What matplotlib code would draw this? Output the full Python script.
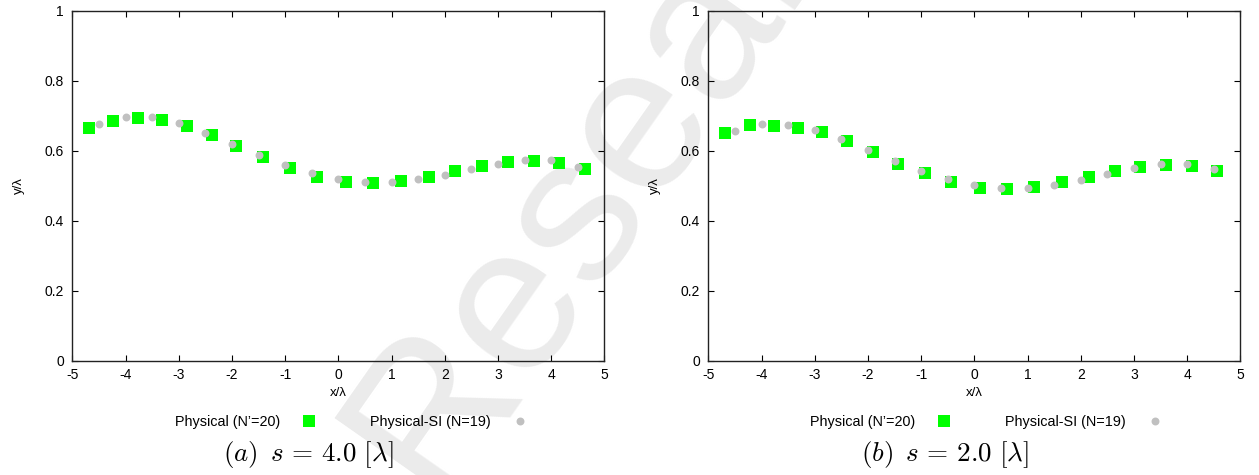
import numpy as np
import matplotlib
matplotlib.use('Agg')
import matplotlib.pyplot as plt

# Data
# (a) s = 4.0
xa_phys = [-4.68, -4.24, -3.77, -3.31, -2.85, -2.38, -1.92, -1.41, -0.90, -0.40,
           0.14, 0.66, 1.18, 1.70, 2.19, 2.70, 3.19, 3.67, 4.15, 4.64]
ya_phys = [0.667, 0.687, 0.695, 0.689, 0.672, 0.646, 0.615, 0.584, 0.552, 0.527,
           0.511, 0.509, 0.514, 0.527, 0.544, 0.557, 0.569, 0.571, 0.566, 0.549]
xa_si = [-4.5, -4.0, -3.5, -3.0, -2.5, -2.0, -1.5, -1.0, -0.5, 0.0,
         0.5, 1.0, 1.5, 2.0, 2.5, 3.0, 3.5, 4.0, 4.5]
ya_si = [0.676, 0.697, 0.696, 0.679, 0.652, 0.621, 0.589, 0.560, 0.536, 0.520,
         0.511, 0.511, 0.519, 0.531, 0.549, 0.563, 0.573, 0.573, 0.555]

# (b) s = 2.0
xb_phys = [-4.69, -4.22, -3.77, -3.32, -2.87, -2.40, -1.91, -1.43, -0.93, -0.43,
           0.10, 0.61, 1.13, 1.64, 2.15, 2.64, 3.12, 3.61, 4.10, 4.57]
yb_phys = [0.652, 0.675, 0.672, 0.667, 0.655, 0.629, 0.597, 0.563, 0.537, 0.511,
           0.495, 0.491, 0.498, 0.512, 0.527, 0.544, 0.555, 0.561, 0.558, 0.544]
xb_si = [-4.5, -4.0, -3.5, -3.0, -2.5, -2.0, -1.5, -1.0, -0.5, 0.0,
         0.5, 1.0, 1.5, 2.0, 2.5, 3.0, 3.5, 4.0, 4.5]
yb_si = [0.658, 0.677, 0.675, 0.659, 0.633, 0.603, 0.571, 0.544, 0.520, 0.504,
         0.495, 0.495, 0.503, 0.517, 0.534, 0.551, 0.563, 0.564, 0.548]

captions = [r'$(a)\ \,s\,=\,4.0\ [\lambda]$', r'$(b)\ \,s\,=\,2.0\ [\lambda]$']
xticks = [-5, -4, -3, -2, -1, 0, 1, 2, 3, 4, 5]
yticks = [0, 0.2, 0.4, 0.6, 0.8, 1]
ytick_labels = ['0', '0.2', '0.4', '0.6', '0.8', '1']

plt.rcParams['font.family'] = ['Liberation Sans', 'DejaVu Sans']
plt.rcParams['mathtext.fontset'] = 'cm'
plt.rcParams['axes.unicode_minus'] = False

W, H = 1259, 475
fig = plt.figure(figsize=(W / 100, H / 100), dpi=100)

# Watermark behind everything
fig.text(435 / W, 1 - 500 / H, 'Research', fontsize=150, color='#ebebeb',
         rotation=55, rotation_mode='anchor', ha='left', va='baseline', zorder=-5)

panels = [
    (72.3, xa_phys, ya_phys, xa_si, ya_si, 351, 308),
    (708.3, xb_phys, yb_phys, xb_si, yb_si, 986, 945),
]

for i, (left, xp, yp, xs, ys, leg_cx, cap_cx) in enumerate(panels):
    ax = fig.add_axes([left / W, 1 - 361 / H, 532 / W, 350 / H])
    ax.set_facecolor('none')
    ax.plot(xp, yp, 's', color='#00ff00', markersize=8.6, markeredgewidth=0,
            label="Physical (N\u2019=20)", zorder=3)
    ax.plot(xs, ys, 'o', color='#c0c0c0', markersize=5.7, markeredgewidth=0,
            label='Physical-SI (N=19)', zorder=3)
    ax.set_xlim(-5, 5)
    ax.set_ylim(0, 1)
    ax.set_xticks(xticks)
    ax.set_yticks(yticks)
    ax.set_yticklabels(ytick_labels)
    ax.tick_params(direction='in', length=4, width=0.8, top=True, right=True,
                   labelsize=10, pad=5)
    ax.tick_params(axis='y', pad=6)
    for sp in ax.spines.values():
        sp.set_linewidth(1.0)
        sp.set_color('#222222')
    ax.set_xlabel('x/λ', fontsize=9.5, labelpad=4)
    ax.set_ylabel('y/λ', fontsize=9.5, labelpad=14)

    leg = ax.legend(loc='center', bbox_to_anchor=(leg_cx / W, 1 - 422 / H),
                    bbox_transform=fig.transFigure, ncol=2, markerfirst=False,
                    frameon=False, fontsize=10.4, handlelength=1.0,
                    handletextpad=1.5, columnspacing=3.7)

    fig.text(cap_cx / W, 1 - 455 / H, captions[i], fontsize=19.5,
             ha='center', va='center')

fig.savefig('out.png', dpi=100)
